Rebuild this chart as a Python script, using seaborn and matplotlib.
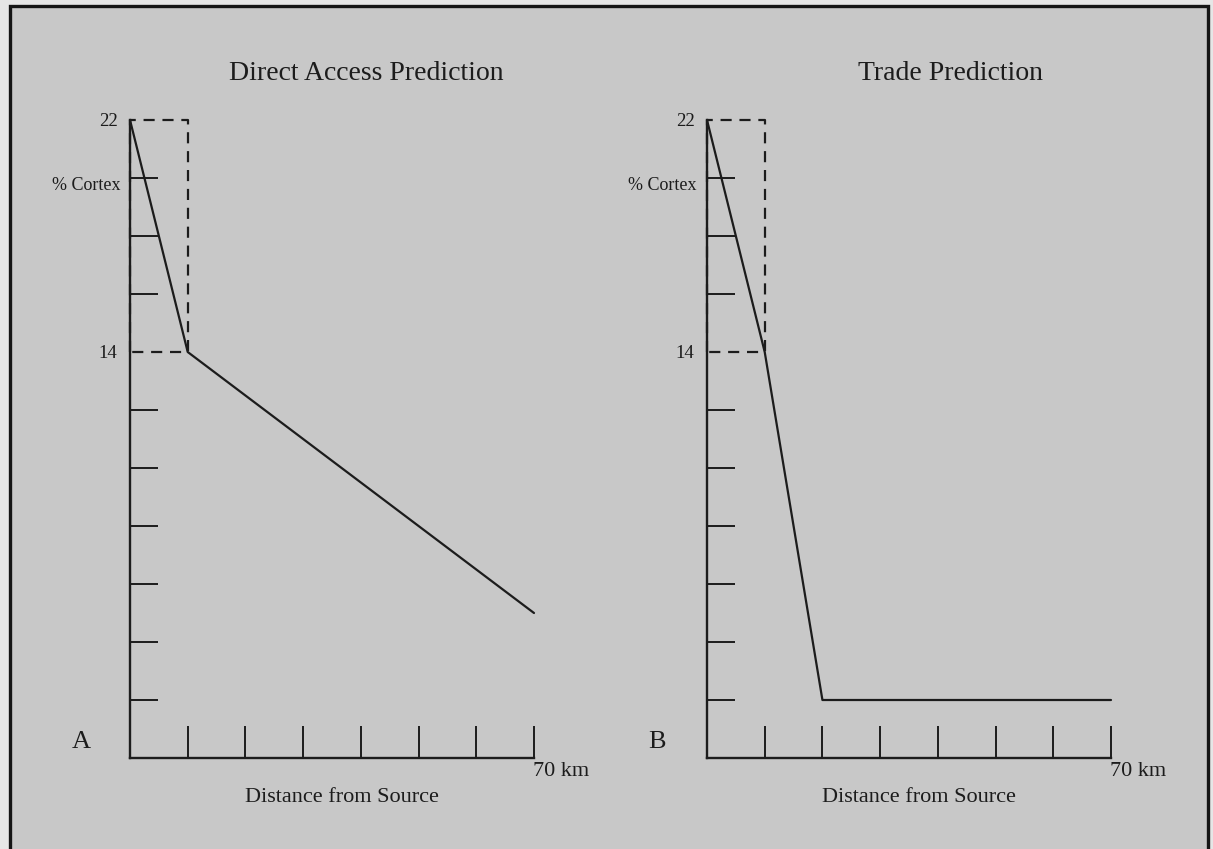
import matplotlib
matplotlib.use("Agg")
import matplotlib.pyplot as plt
from matplotlib.patches import Rectangle
import numpy as np
import pandas as pd
import seaborn as sns

# ---------------- data ----------------
distance_A = [0, 10, 70]
cortex_A = [22, 14, 5]
distance_B = [0, 10, 20, 70]
cortex_B = [22, 14, 2, 2]
box_x = [0, 10]          # dashed "source zone" box, km
box_y = [14, 22]         # dashed "source zone" box, % cortex
x_ticks = [10, 20, 30, 40, 50, 60, 70]
y_minor_ticks = [2, 4, 6, 8, 10, 12, 16, 18, 20]
y_label_ticks = [14, 22]
titles = ["Direct Access Prediction", "Trade Prediction"]
panel_letters = ["A", "B"]
x_end_label = "70 km"
x_axis_label = "Distance from Source"
y_axis_label = "% Cortex"

# ---------------- style ----------------
sns.set_theme(style="ticks")
plt.rcParams["font.family"] = ["Liberation Serif", "DejaVu Serif"]

W, H = 1213, 849
INK = "#1c1c1c"
fig = plt.figure(figsize=(W / 100, H / 100), dpi=100)
fig.patch.set_facecolor("#e6e6e6")


def fx(px):
    return px / W


def fy(py):
    return 1 - py / H


# scanned page panel with border
fig.add_artist(Rectangle((fx(10), fy(860)), fx(1208) - fx(10), fy(6) - fy(860),
                         transform=fig.transFigure, facecolor="#c8c8c8",
                         edgecolor="#151515", linewidth=2.4, zorder=0))

panels = [
    dict(x0=130, xdata=distance_A, ydata=cortex_A, title_x=366, letter_x=81),
    dict(x0=707, xdata=distance_B, ydata=cortex_B, title_x=950, letter_x=657),
]
axis_bottom_px, axis_top_px, axis_width_px = 758, 120, 404

for i, p in enumerate(panels):
    ax = fig.add_axes([fx(p["x0"]), fy(axis_bottom_px), fx(axis_width_px),
                       (axis_bottom_px - axis_top_px) / H])
    ax.set_facecolor("none")
    df = pd.DataFrame({"distance": p["xdata"], "cortex": p["ydata"]})
    sns.lineplot(data=df, x="distance", y="cortex", ax=ax, color=INK,
                 linewidth=1.6, estimator=None, sort=False, clip_on=False)
    # dashed box
    bx = [box_x[0], box_x[0], box_x[1], box_x[1], box_x[0]]
    by = [box_y[0], box_y[1], box_y[1], box_y[0], box_y[0]]
    ax.plot(bx, by, color=INK, linewidth=1.6, dashes=(5, 3.5), clip_on=False)

    ax.set_xlim(0, 70)
    ax.set_ylim(0, 22)
    for s in ["top", "right"]:
        ax.spines[s].set_visible(False)
    for s in ["left", "bottom"]:
        ax.spines[s].set_linewidth(1.7)
        ax.spines[s].set_color(INK)

    ax.set_xticks(x_ticks)
    ax.set_xticklabels([])
    ax.tick_params(axis="x", which="major", direction="in", length=23,
                   width=1.4, color=INK)
    ax.set_yticks(y_label_ticks)
    ax.set_yticklabels([str(v) for v in y_label_ticks])
    ax.tick_params(axis="y", which="major", length=0, pad=9, labelsize=13.5,
                   labelcolor=INK)
    ax.set_yticks(y_minor_ticks, minor=True)
    ax.tick_params(axis="y", which="minor", direction="in", length=20,
                   width=1.4, color=INK)
    ax.tick_params(axis="x", which="minor", length=0)
    ax.set_xlabel("")
    ax.set_ylabel("")

    ax.annotate(x_end_label, xy=(70, 0), xytext=(-1, -3),
                textcoords="offset points", ha="left", va="top",
                fontsize=16, color=INK, annotation_clip=False)

    fig.text(fx(p["x0"] - 10), fy(185), y_axis_label, ha="right", va="center",
             fontsize=13, color=INK)
    fig.text(fx(p["x0"] + 212), fy(798), x_axis_label, ha="center",
             va="center", fontsize=16, color=INK)
    fig.text(fx(p["title_x"]), fy(73), titles[i], ha="center", va="center",
             fontsize=20, color=INK)
    fig.text(fx(p["letter_x"]), fy(742), panel_letters[i], ha="center",
             va="center", fontsize=19, color=INK)

fig.savefig("out.png", dpi=100, facecolor=fig.get_facecolor())
